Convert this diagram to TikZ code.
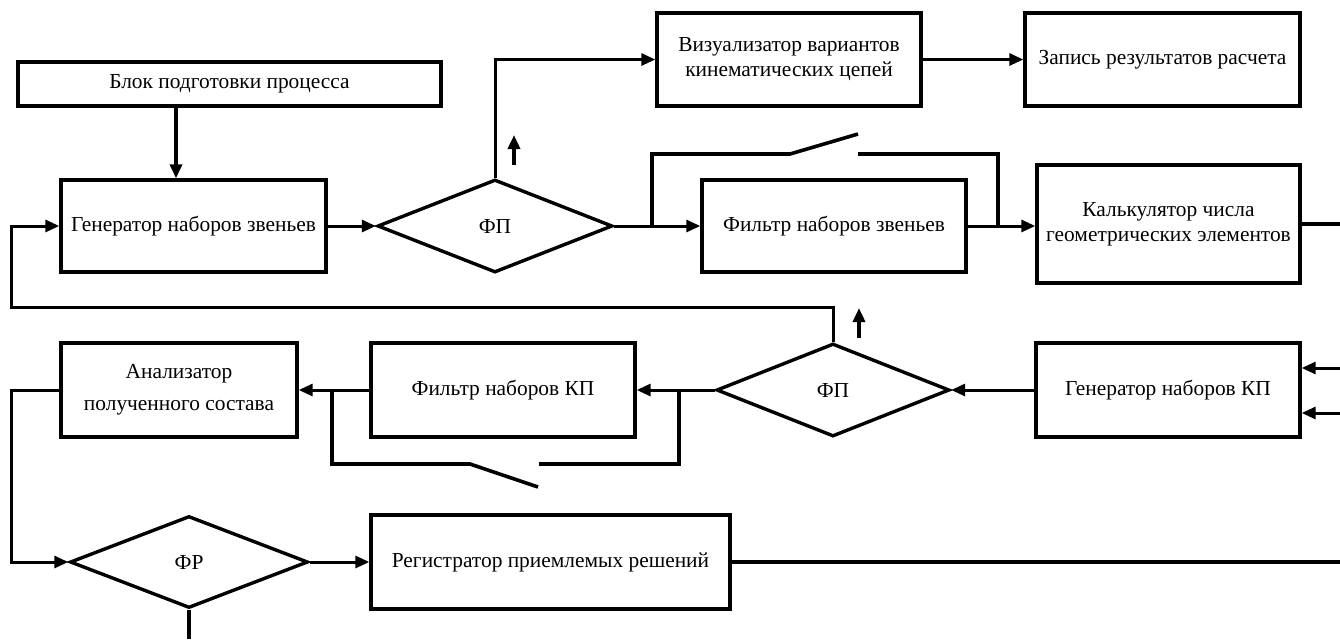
\documentclass[tikz,border=0pt]{standalone}
\usepackage{fontspec}
\setmainfont{Liberation Serif}
\usetikzlibrary{shapes.geometric, arrows.meta}

\tikzset{
  tekst/.style={font=\fontsize{10.7}{12.5}\selectfont},
  blok/.style={draw, line width=1.7pt, inner sep=0pt, align=center, tekst},
  romb/.style={draw, diamond, line width=1.7pt, inner sep=0pt, tekst},
  svyaz/.style={line width=1.5pt},
  zhirn/.style={line width=1.8pt},
  strel/.style={svyaz, -{Triangle[length=7pt,width=6pt]}}
}

\begin{document}
\begin{tikzpicture}[x=0.5pt, y=-0.5pt]
    \useasboundingbox (0,0) rectangle (1340,639);

    % blocks
    \node[blok, minimum width=211.5pt, minimum height=22pt] (blok) at (229.5,84) {Блок подготовки процесса};
    \node[blok, minimum width=132.5pt, minimum height=46pt] (genz) at (193.5,226) {Генератор наборов звеньев};
    \node[romb, minimum width=117.5pt, minimum height=46.5pt] (fp1) at (495,226) {ФП};
    \node[blok, minimum width=132pt, minimum height=46.5pt] (viz) at (789,59.5) {Визуализатор вариантов\\кинематических цепей};
    \node[blok, minimum width=137.5pt, minimum height=46.5pt] (zap) at (1162.5,59.5) {Запись результатов расчета};
    \node[blok, minimum width=132pt, minimum height=46pt] (filz) at (834,226) {Фильтр наборов звеньев};
    \node[blok, minimum width=131.5pt, minimum height=59pt] (kalk) at (1168.5,224) {Калькулятор числа\\геометрических элементов};
    \node[romb, minimum width=116.5pt, minimum height=46.5pt] (fp2) at (833,390) {ФП};
    \node[blok, minimum width=132pt, minimum height=47pt] (genkp) at (1168,390) {Генератор наборов КП};
    \node[blok, minimum width=132pt, minimum height=47pt] (filkp) at (503,390) {Фильтр наборов КП};
    \node[blok, minimum width=118pt, minimum height=47pt] (anal) at (179,390) {Анализатор\\[3.5pt]полученного состава};
    \node[romb, minimum width=119pt, minimum height=46pt] (fr) at (189,562) {ФР};
    \node[blok, minimum width=179.5pt, minimum height=47pt] (reg) at (550.5,562) {Регистратор приемлемых решений};

    % helper points
    \coordinate (dn) at (176,0);
    \coordinate (lp) at (11,307);
    \coordinate (la) at (11,390);
    \coordinate (rgt) at (1340,0);
    \coordinate (in1) at (1340,368);
    \coordinate (in2) at (1340,413);
    \coordinate (frout) at (189,639);
    \coordinate (ua1) at (514,165); \coordinate (ub1) at (514,135);
    \coordinate (ua2) at (859,338); \coordinate (ub2) at (859,308);

    % connectors, upper row
    \draw[strel, zhirn] (blok.south -| dn) -- (genz.north -| dn);
    \draw[strel] (genz.east) -- (fp1.west);
    \draw[strel] (fp1.north) |- (viz.west);
    \draw[strel] (viz.east) -- (zap.west);
    \draw[strel] (fp1.east) -- (filz.west);
    \draw[strel] (filz.east) -- (filz.east -| kalk.west);
    \draw[zhirn] (kalk.east) -- (kalk.east -| rgt);
    \draw[strel, zhirn] (ua1) -- (ub1);

    % switch over filter
    \draw[zhirn] (652,226) -- (652,154) -- (790,154) -- (858,134);
    \draw[zhirn] (858,154) -- (998,154) -- (998,226);

    % return loop
    \draw[strel] (fp2.north) |- (lp) |- (genz.west);
    \draw[strel, zhirn] (ua2) -- (ub2);

    % connectors, lower rows
    \draw[strel] (in1) -- (in1 -| genkp.east);
    \draw[strel] (in2) -- (in2 -| genkp.east);
    \draw[strel] (genkp.west) -- (fp2.east);
    \draw[strel] (fp2.west) -- (filkp.east);
    \draw[strel] (filkp.west) -- (anal.east);
    \draw[strel] (anal.west) -- (la) |- (fr.west);
    \draw[strel] (fr.east) -- (reg.west);
    \draw[zhirn] (reg.east) -- (reg.east -| rgt);
    \draw[zhirn] (fr.south) -- (frout);

    % switch under filter
    \draw[zhirn] (679,390) -- (679,464) -- (539,464);
    \draw[zhirn] (538,487) -- (470,464) -- (332,464) -- (332,390);

\end{tikzpicture}
\end{document}
